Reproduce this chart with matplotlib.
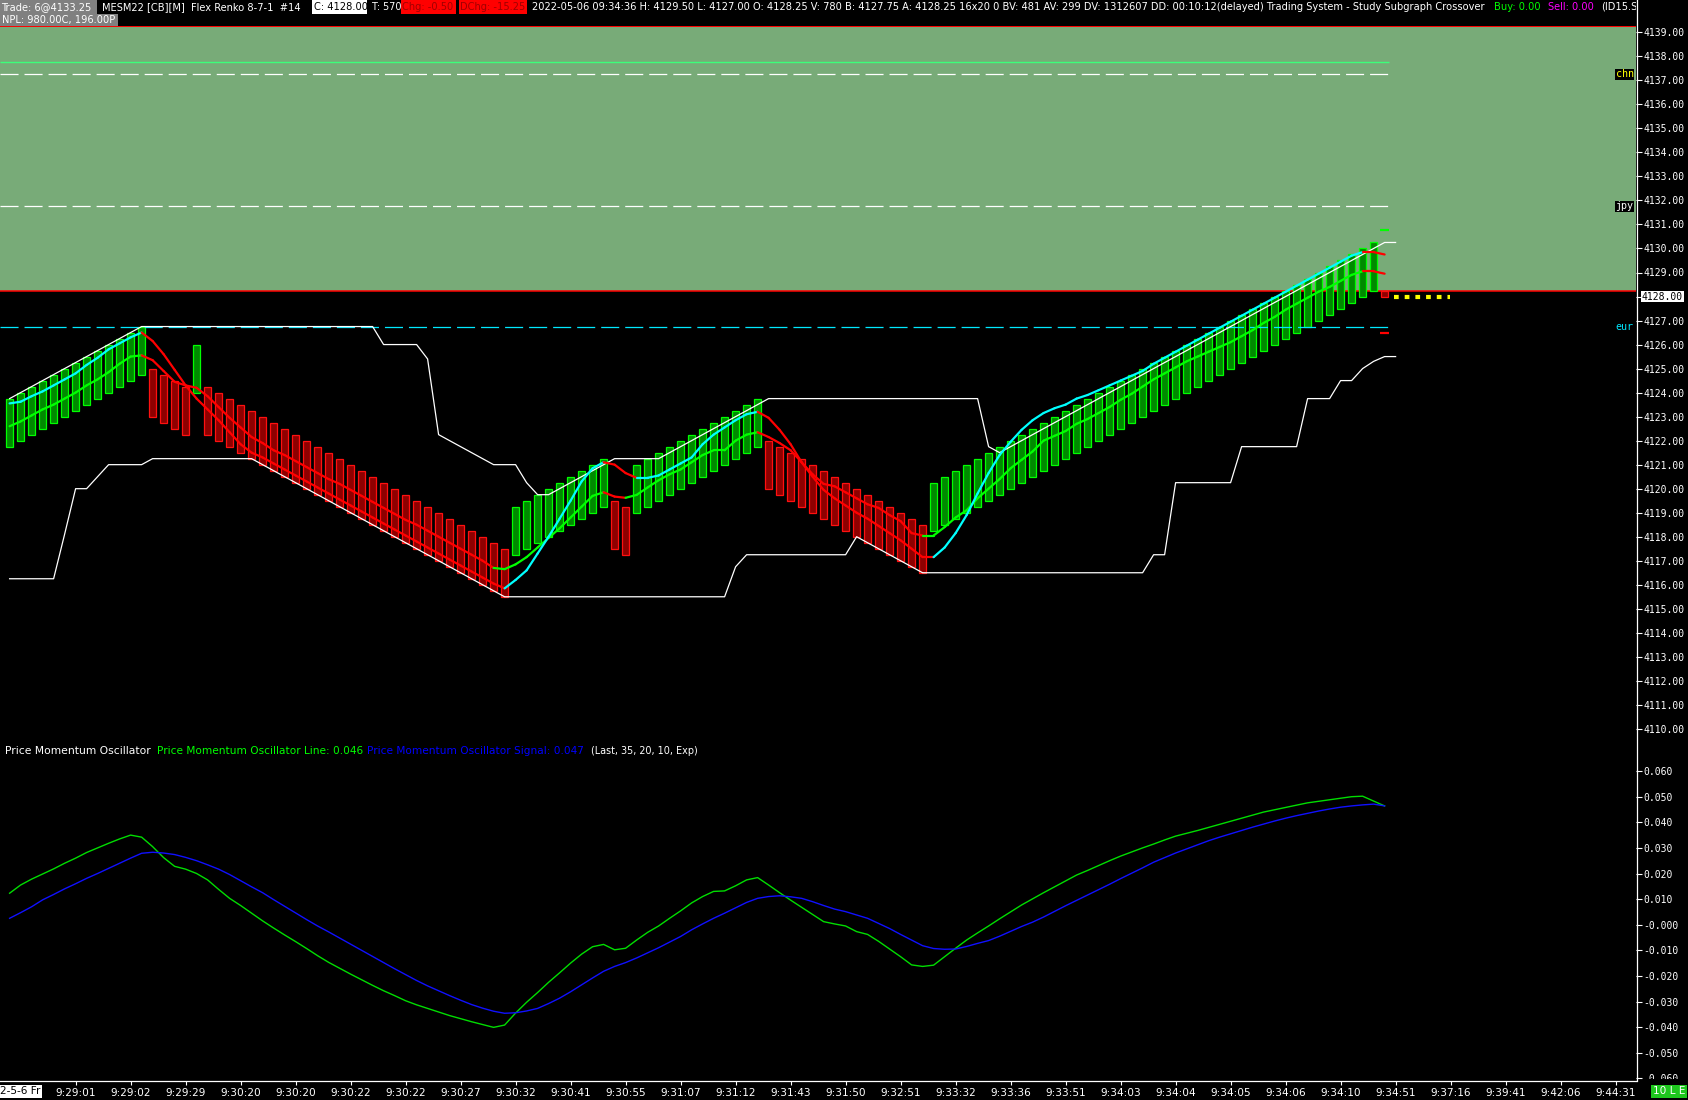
import matplotlib
matplotlib.use("Agg")
import matplotlib.pyplot as plt
from matplotlib import font_manager
from matplotlib.patches import Rectangle
from matplotlib.collections import LineCollection
from matplotlib.lines import Line2D
from matplotlib.transforms import Bbox

plt.rcParams['lines.scale_dashes'] = False

# ---------------- data ----------------
bar_high = [4123.75, 4124.0, 4124.25, 4124.5, 4124.75, 4125.0, 4125.25, 4125.5, 4125.75, 4126.0, 4126.25, 4126.5, 4126.75,
            4125.0, 4124.75, 4124.5, 4124.25,
            4126.0,
            4124.25, 4124.0, 4123.75, 4123.5, 4123.25, 4123.0, 4122.75, 4122.5, 4122.25, 4122.0,
            4121.75, 4121.5, 4121.25, 4121.0, 4120.75, 4120.5, 4120.25, 4120.0, 4119.75, 4119.5,
            4119.25, 4119.0, 4118.75, 4118.5, 4118.25, 4118.0, 4117.75, 4117.5,
            4119.25, 4119.5, 4119.75, 4120.0, 4120.25, 4120.5, 4120.75, 4121.0, 4121.25,
            4119.5, 4119.25,
            4121.0, 4121.25, 4121.5, 4121.75, 4122.0, 4122.25, 4122.5, 4122.75, 4123.0, 4123.25, 4123.5, 4123.75,
            4122.0, 4121.75, 4121.5, 4121.25, 4121.0, 4120.75, 4120.5, 4120.25, 4120.0, 4119.75, 4119.5, 4119.25, 4119.0, 4118.75, 4118.5,
            4120.25, 4120.5, 4120.75, 4121.0, 4121.25, 4121.5, 4121.75, 4122.0, 4122.25, 4122.5,
            4122.75, 4123.0, 4123.25, 4123.5, 4123.75, 4124.0, 4124.25, 4124.5, 4124.75, 4125.0,
            4125.25, 4125.5, 4125.75, 4126.0, 4126.25, 4126.5, 4126.75, 4127.0, 4127.25, 4127.5,
            4127.75, 4128.0, 4128.25, 4128.5, 4128.75, 4129.0, 4129.25, 4129.5, 4129.75, 4130.0, 4130.25]
bar_low = [4121.75, 4122.0, 4122.25, 4122.5, 4122.75, 4123.0, 4123.25, 4123.5, 4123.75, 4124.0, 4124.25, 4124.5, 4124.75,
           4123.0, 4122.75, 4122.5, 4122.25,
           4124.0,
           4122.25, 4122.0, 4121.75, 4121.5, 4121.25, 4121.0, 4120.75, 4120.5, 4120.25, 4120.0,
           4119.75, 4119.5, 4119.25, 4119.0, 4118.75, 4118.5, 4118.25, 4118.0, 4117.75, 4117.5,
           4117.25, 4117.0, 4116.75, 4116.5, 4116.25, 4116.0, 4115.75, 4115.5,
           4117.25, 4117.5, 4117.75, 4118.0, 4118.25, 4118.5, 4118.75, 4119.0, 4119.25,
           4117.5, 4117.25,
           4119.0, 4119.25, 4119.5, 4119.75, 4120.0, 4120.25, 4120.5, 4120.75, 4121.0, 4121.25, 4121.5, 4121.75,
           4120.0, 4119.75, 4119.5, 4119.25, 4119.0, 4118.75, 4118.5, 4118.25, 4118.0, 4117.75, 4117.5, 4117.25, 4117.0, 4116.75, 4116.5,
           4118.25, 4118.5, 4118.75, 4119.0, 4119.25, 4119.5, 4119.75, 4120.0, 4120.25, 4120.5,
           4120.75, 4121.0, 4121.25, 4121.5, 4121.75, 4122.0, 4122.25, 4122.5, 4122.75, 4123.0,
           4123.25, 4123.5, 4123.75, 4124.0, 4124.25, 4124.5, 4124.75, 4125.0, 4125.25, 4125.5,
           4125.75, 4126.0, 4126.25, 4126.5, 4126.75, 4127.0, 4127.25, 4127.5, 4127.75, 4128.0, 4128.25]
bar_dir = "U" * 13 + "D" * 4 + "U" + "D" * 28 + "U" * 9 + "D" * 2 + "U" * 12 + "D" * 15 + "U" * 41
cur_bar_high, cur_bar_low = 4128.25, 4128.0

upper_channel = ([4123.75, 4124.0, 4124.25, 4124.5, 4124.75, 4125.0, 4125.25, 4125.5, 4125.75, 4126.0, 4126.25, 4126.5, 4126.75]
                 + [4126.75] * 21 + [4126.0] * 4
                 + [4125.4, 4122.25, 4122.0, 4121.75, 4121.5, 4121.25, 4121.0, 4121.0, 4121.0, 4120.25, 4119.75, 4119.75,
                    4120.0, 4120.25, 4120.5, 4120.75, 4121.0]
                 + [4121.25] * 5
                 + [4121.5, 4121.75, 4122.0, 4122.25, 4122.5, 4122.75, 4123.0, 4123.25, 4123.5]
                 + [4123.75] * 20
                 + [4121.75,
                    4121.5, 4121.75, 4122.0, 4122.25, 4122.5, 4122.75, 4123.0, 4123.25, 4123.5, 4123.75,
                    4124.0, 4124.25, 4124.5, 4124.75, 4125.0, 4125.25, 4125.5, 4125.75, 4126.0, 4126.25,
                    4126.5, 4126.75, 4127.0, 4127.25, 4127.5, 4127.75, 4128.0, 4128.25, 4128.5, 4128.75,
                    4129.0, 4129.25, 4129.5, 4129.75, 4130.0, 4130.25, 4130.25])
lower_channel = ([4116.25] * 5 + [4118.1, 4120.0, 4120.0, 4120.5] + [4121.0] * 4 + [4121.25] * 9
                 + [4121.25, 4121.0, 4120.75, 4120.5, 4120.25, 4120.0, 4119.75, 4119.5, 4119.25, 4119.0,
                    4118.75, 4118.5, 4118.25, 4118.0, 4117.75, 4117.5, 4117.25, 4117.0, 4116.75, 4116.5,
                    4116.25, 4116.0, 4115.75, 4115.5]
                 + [4115.5] * 20 + [4116.75] + [4117.25] * 10
                 + [4118.0, 4117.75, 4117.5, 4117.25, 4117.0, 4116.75, 4116.5]
                 + [4116.5] * 20 + [4117.25] * 2 + [4120.25] * 6 + [4121.75] * 6 + [4123.75] * 3
                 + [4124.5] * 2 + [4125.0, 4125.3, 4125.5, 4125.5])

fast_avg = [4123.55, 4123.62, 4123.85, 4124.05, 4124.3, 4124.55, 4124.8, 4125.15, 4125.45, 4125.8, 4126.05, 4126.3, 4126.5,
            4126.15, 4125.6, 4124.95, 4124.3, 4123.75, 4123.3, 4122.85, 4122.35, 4121.85,
            4121.5, 4121.3, 4121.05, 4120.8, 4120.55, 4120.3, 4120.05, 4119.8, 4119.55, 4119.3,
            4119.05, 4118.8, 4118.55, 4118.3, 4118.05, 4117.8, 4117.55, 4117.3, 4117.05, 4116.8,
            4116.55, 4116.3, 4116.05, 4115.85,
            4116.2, 4116.6, 4117.3, 4118.0, 4118.75, 4119.5, 4120.3, 4120.85, 4121.1,
            4121.0, 4120.65, 4120.45,
            4120.45, 4120.55, 4120.8, 4121.05, 4121.3, 4121.85, 4122.25, 4122.55, 4122.85, 4123.1, 4123.2,
            4122.95, 4122.45, 4121.85, 4121.1, 4120.5, 4119.95, 4119.6, 4119.3, 4119.0, 4118.75, 4118.45, 4118.15, 4117.85, 4117.5, 4117.15,
            4117.15, 4117.55, 4118.15, 4118.9, 4119.8, 4120.65, 4121.4, 4121.95, 4122.45, 4122.85,
            4123.15, 4123.35, 4123.5, 4123.75, 4123.9, 4124.1, 4124.3, 4124.5, 4124.7, 4124.9,
            4125.2, 4125.45, 4125.7, 4125.95, 4126.2, 4126.45, 4126.7, 4126.95, 4127.2, 4127.45,
            4127.7, 4127.95, 4128.2, 4128.45, 4128.7, 4128.95, 4129.2, 4129.45, 4129.7, 4129.85,
            4129.85, 4129.75]
fast_dir = "U" * 13 + "D" * 33 + "U" * 9 + "D" * 3 + "U" * 11 + "D" * 16 + "U" * 39 + "D" * 2

slow_avg = [4122.6, 4122.8, 4123.05, 4123.3, 4123.5, 4123.75, 4124.0, 4124.3, 4124.55, 4124.85, 4125.2, 4125.5, 4125.55,
            4125.35, 4124.9, 4124.45, 4124.3, 4124.2, 4123.85, 4123.4, 4122.95, 4122.55, 4122.15, 4121.9, 4121.6, 4121.4,
            4121.15, 4120.9, 4120.65, 4120.4, 4120.2, 4119.95, 4119.7, 4119.45, 4119.2, 4118.95,
            4118.7, 4118.5, 4118.25, 4118.0, 4117.75, 4117.5, 4117.25, 4117.0, 4116.7, 4116.65,
            4116.85, 4117.15, 4117.55, 4117.95, 4118.35, 4118.8, 4119.25, 4119.7, 4119.85,
            4119.67, 4119.62,
            4119.74, 4120.05, 4120.35, 4120.6, 4120.8, 4121.1, 4121.4, 4121.6, 4121.6, 4122.0, 4122.25, 4122.35,
            4122.15, 4121.9, 4121.6, 4121.1, 4120.6, 4120.2, 4120.1, 4119.85, 4119.6, 4119.35, 4119.2, 4118.9, 4118.65, 4118.15, 4118.05,
            4118.05, 4118.4, 4118.8, 4119.1, 4119.6, 4120.0, 4120.4, 4120.85, 4121.2, 4121.55,
            4122.0, 4122.2, 4122.4, 4122.7, 4122.9, 4123.15, 4123.4, 4123.7, 4123.95, 4124.25,
            4124.55, 4124.8, 4125.05, 4125.3, 4125.5, 4125.7, 4125.9, 4126.1, 4126.35, 4126.6,
            4126.9, 4127.15, 4127.45, 4127.7, 4127.95, 4128.2, 4128.4, 4128.65, 4128.9, 4129.05,
            4129.05, 4128.95]
slow_dir = "U" * 13 + "D" * 32 + "U" * 10 + "D" * 2 + "U" * 12 + "D" * 15 + "U" * 40 + "D" * 2

pmo_line = [0.0123, 0.0155, 0.0178, 0.0198, 0.0218, 0.0240, 0.0260, 0.0282, 0.0300, 0.0318,
            0.0335, 0.0350, 0.0342, 0.0305, 0.0262, 0.0228, 0.0217, 0.0200, 0.0175, 0.0138,
            0.0103, 0.0075, 0.0045, 0.0015, -0.0013, -0.0040, -0.0066, -0.0093, -0.0121, -0.0147,
            -0.0170, -0.0193, -0.0215, -0.0237, -0.0258, -0.0277, -0.0297, -0.0313, -0.0327, -0.0341,
            -0.0355, -0.0367, -0.0379, -0.0390, -0.0401, -0.0392, -0.0345, -0.0303, -0.0265, -0.0225,
            -0.0188, -0.0150, -0.0115, -0.0086, -0.0077, -0.0098, -0.0092, -0.0060, -0.0030, -0.0005,
            0.0025, 0.0054, 0.0085, 0.0110, 0.0130, 0.0132, 0.0152, 0.0175, 0.0184, 0.0155,
            0.0125, 0.0096, 0.0068, 0.0040, 0.0012, 0.0003, -0.0005, -0.0027, -0.0038, -0.0065,
            -0.0095, -0.0125, -0.0157, -0.0163, -0.0158, -0.0125, -0.0092, -0.0060, -0.0032, -0.0005,
            0.0023, 0.0050, 0.0077, 0.0101, 0.0125, 0.0148, 0.0171, 0.0194, 0.0212, 0.0231,
            0.0250, 0.0268, 0.0284, 0.0300, 0.0315, 0.0331, 0.0346, 0.0357, 0.0368, 0.0380,
            0.0392, 0.0404, 0.0416, 0.0428, 0.0440, 0.0449, 0.0458, 0.0467, 0.0476, 0.0482,
            0.0488, 0.0494, 0.0500, 0.0502, 0.0483, 0.0464]
pmo_signal = [0.0025, 0.0047, 0.0070, 0.0097, 0.0118, 0.0140, 0.0160, 0.0181, 0.0200, 0.0220,
              0.0240, 0.0260, 0.0279, 0.0283, 0.0280, 0.0274, 0.0263, 0.0250, 0.0234, 0.0217,
              0.0196, 0.0172, 0.0148, 0.0125, 0.0098, 0.0072, 0.0046, 0.0020, -0.0005, -0.0028,
              -0.0052, -0.0076, -0.0100, -0.0124, -0.0148, -0.0172, -0.0195, -0.0218, -0.0239, -0.0258,
              -0.0277, -0.0295, -0.0312, -0.0326, -0.0338, -0.0346, -0.0344, -0.0337, -0.0327, -0.0308,
              -0.0287, -0.0262, -0.0235, -0.0208, -0.0182, -0.0163, -0.0148, -0.0130, -0.0110, -0.0090,
              -0.0068, -0.0046, -0.0020, 0.0003, 0.0025, 0.0045, 0.0066, 0.0087, 0.0103, 0.0110,
              0.0113, 0.0109, 0.0103, 0.0090, 0.0075, 0.0061, 0.0051, 0.0038, 0.0025, 0.0005,
              -0.0015, -0.0038, -0.0060, -0.0082, -0.0093, -0.0096, -0.0095, -0.0085, -0.0073, -0.0062,
              -0.0045, -0.0026, -0.0007, 0.0010, 0.0030, 0.0052, 0.0074, 0.0095, 0.0116, 0.0137,
              0.0158, 0.0180, 0.0201, 0.0222, 0.0244, 0.0262, 0.0280, 0.0296, 0.0312, 0.0328,
              0.0342, 0.0355, 0.0368, 0.0381, 0.0393, 0.0405, 0.0416, 0.0426, 0.0435, 0.0444,
              0.0452, 0.0459, 0.0464, 0.0468, 0.0471, 0.0464]

zone_low, zone_high = 4128.25, 4139.25
level_green = 4137.75
level_chn = 4137.25
level_jpy = 4131.75
level_eur = 4126.75
last_price = 4128.00
stop_up, stop_dn = 4130.75, 4126.5

price_ticks = list(range(4110, 4140))
osc_ticks = [0.06, 0.05, 0.04, 0.03, 0.02, 0.01, 0.0, -0.01, -0.02, -0.03, -0.04, -0.05, -0.06]
osc_tick_labels = ["0.060", "0.050", "0.040", "0.030", "0.020", "0.010", "-0.000",
                   "-0.010", "-0.020", "-0.030", "-0.040", "-0.050", "-0.060"]
time_labels = ["9:29:01", "9:29:02", "9:29:29", "9:30:20", "9:30:20", "9:30:22", "9:30:22", "9:30:27",
               "9:30:32", "9:30:41", "9:30:55", "9:31:07", "9:31:12", "9:31:43", "9:31:50", "9:32:51",
               "9:33:32", "9:33:36", "9:33:51", "9:34:03", "9:34:04", "9:34:05", "9:34:06", "9:34:10",
               "9:34:51", "9:37:16", "9:39:41", "9:42:06", "9:44:31"]
first_time_label = "2-5-6 Fr"

header_row1 = [
    ("Trade: 6@4133.25", 0, 97, 'white', '#808080'),
    ("MESM22 [CB][M]  Flex Renko 8-7-1  #14", 101, 309, 'white', None),
    ("C: 4128.00", 312, 367, 'black', 'white'),
    ("T: 570", 370, 400, 'white', None),
    ("Chg: -0.50", 401, 456, '#a00000', '#ff0000'),
    ("DChg: -15.25", 459, 527, '#a00000', '#ff0000'),
    ("2022-05-06 09:34:36 H: 4129.50 L: 4127.00 O: 4128.25 V: 780 B: 4127.75 A: 4128.25 16x20 0 BV: 481 "
     "AV: 299 DV: 1312607 DD: 00:10:12(delayed) Trading System - Study Subgraph Crossover", 531, 1488, 'white', None),
    ("Buy: 0.00", 1493, 1541, '#00ff00', None),
    ("Sell: 0.00", 1547, 1594, '#ff00ff', None),
]
header_clip = ("(ID15.Study", 1601, 1636)
header_row2 = ("NPL: 980.00C, 196.00P", 0, 118)
osc_title = [
    ("Price Momentum Oscillator", 5, 150, 'white'),
    ("Price Momentum Oscillator Line: 0.046", 157, 362, '#00ff00'),
    ("Price Momentum Oscillator Signal: 0.047", 367, 582, '#0000ff'),
    ("(Last, 35, 20, 10, Exp)", 591, 697, 'white'),
]

# ---------------- layout ----------------
W, H, DPI = 1688, 1100, 100
CHART_R = 1636
P_TOP, P_BOT = 26, 742
O_TOP, O_BOT = 742, 1081
BAR0_PX, BAR_STEP = 9.6, 11.0
PX_4139, PX_PER_PT = 32.3, 24.02
PX_ZERO, PX_PER_UNIT = 924.7, 2560.0
LEVEL_END = (1389 - BAR0_PX) / BAR_STEP
YEL_START, YEL_END = (1394 - BAR0_PX) / BAR_STEP, (1450 - BAR0_PX) / BAR_STEP

installed = {f.name for f in font_manager.fontManager.ttflist}
NARROW = 'Liberation Sans Narrow' if 'Liberation Sans Narrow' in installed else 'DejaVu Sans'
MONO = 'DejaVu Sans Mono'

ZONE = '#78ab78'
UPF, UPE = '#008a00', '#00ff00'
DNF, DNE = '#8e0000', '#ff1010'

fig = plt.figure(figsize=(W / DPI, H / DPI), dpi=DPI, facecolor='black')


def fx(px):
    return px / W


def fy(py):
    return 1 - py / H


ax1 = fig.add_axes([0, fy(P_BOT), fx(CHART_R), (P_BOT - P_TOP) / H])
ax2 = fig.add_axes([0, fy(O_BOT), fx(CHART_R), (O_BOT - O_TOP) / H], sharex=ax1)
for ax in (ax1, ax2):
    ax.set_facecolor('black')
    for sp in ax.spines.values():
        sp.set_visible(False)

xmin = (0 - BAR0_PX) / BAR_STEP
xmax = (CHART_R - BAR0_PX) / BAR_STEP
ax1.set_xlim(xmin, xmax)
ax1.set_ylim(4139 - (P_BOT - PX_4139) / PX_PER_PT, 4139 + (PX_4139 - P_TOP) / PX_PER_PT)
ax2.set_ylim((PX_ZERO - O_BOT) / PX_PER_UNIT, (PX_ZERO - O_TOP) / PX_PER_UNIT)

# ---- price panel ----
ax1.axhspan(zone_low, zone_high, color=ZONE, lw=0, zorder=0)
ax1.axhline(zone_low, color='#ff0000', lw=1.1, zorder=1)
ax1.axhline(zone_high, color='#ff0000', lw=1.4, zorder=1)

ax1.hlines(level_green, xmin, LEVEL_END, color='#3cff7a', lw=1.0, zorder=2.5)
for lev, col in ((level_chn, 'white'), (level_jpy, 'white'), (level_eur, '#00e8ff')):
    ln = ax1.hlines(lev, xmin, LEVEL_END, color=col, lw=0.9, zorder=2.5)
    ln.set_linestyle((0, (13.0, 4.3)))
ax1.hlines(last_price, YEL_START, YEL_END, color='#ffff00', lw=3.0, zorder=2.5,
           linestyles=[(0, (3.4, 4.3))])

n = len(bar_high)
xs = list(range(n))
heights = [bar_high[i] - bar_low[i] for i in range(n)]
fills = [UPF if d == 'U' else DNF for d in bar_dir]
edges = [UPE if d == 'U' else DNE for d in bar_dir]
ax1.bar(xs, heights, bottom=bar_low, width=0.6, color=fills, edgecolor=edges, linewidth=0.9, zorder=2)
ax1.bar([n], [cur_bar_high - cur_bar_low], bottom=[cur_bar_low], width=0.6, color=DNF,
        edgecolor=DNE, linewidth=0.9, zorder=2)

ax1.plot(range(len(upper_channel)), upper_channel, color='white', lw=0.9, zorder=3)
ax1.plot(range(len(lower_channel)), lower_channel, color='white', lw=0.9, zorder=3)


def colored_line(ax, vals, dirs, cmap, lw, z):
    segs = [[(i - 1, vals[i - 1]), (i, vals[i])] for i in range(1, len(vals))]
    cols = [cmap[dirs[i]] for i in range(1, len(vals))]
    ax.add_collection(LineCollection(segs, colors=cols, linewidths=lw, zorder=z, capstyle='round'))


colored_line(ax1, slow_avg, slow_dir, {'U': '#00ff00', 'D': '#ff0000'}, 1.6, 4)
colored_line(ax1, fast_avg, fast_dir, {'U': '#00ffff', 'D': '#ff0000'}, 1.6, 5)

ax1.hlines([stop_up, stop_dn], n - 0.4, n + 0.4, colors=['#00ff00', '#ff0000'], lw=1.6, zorder=5)

ax1.yaxis.tick_right()
ax1.set_yticks(price_ticks)
ax1.set_yticklabels([f"{v:.2f}" for v in price_ticks], family=MONO, fontsize=7.0, color='white')
ax1.tick_params(axis='y', direction='out', length=4, width=0.8, colors='white', pad=1.5)
ax1.tick_params(axis='x', bottom=False, labelbottom=False)

ax1.text(1.0036, last_price, f"{last_price:.2f}", transform=ax1.get_yaxis_transform(), family=MONO,
         fontsize=7.0, color='black', ha='left', va='center', clip_on=False, zorder=10,
         bbox=dict(facecolor='white', edgecolor='none', pad=0.6))
for lev, s, col, boxed in ((level_chn, 'chn', '#ffff00', True), (level_jpy, 'jpy', 'white', True),
                           (level_eur, 'eur', '#00e8ff', False)):
    kw = dict(bbox=dict(facecolor='black', edgecolor='none', pad=0.6)) if boxed else {}
    ax1.text(0.9985, lev, s, transform=ax1.get_yaxis_transform(), family=MONO, fontsize=7.2,
             color=col, ha='right', va='center', zorder=6, **kw)

# ---- oscillator panel ----
ax2.plot(range(len(pmo_line)), pmo_line, color='#00dd00', lw=1.0, zorder=3)
ax2.plot(range(len(pmo_signal)), pmo_signal, color='#1010ff', lw=1.0, zorder=4)
ax2.yaxis.tick_right()
ax2.set_yticks(osc_ticks)
ax2.set_yticklabels(osc_tick_labels, family=MONO, fontsize=7.0, color='white')
ax2.tick_params(axis='y', direction='out', length=4, width=0.8, colors='white', pad=1.5)
lab = ax2.get_yticklabels()[-1]
lab.set_clip_box(Bbox.from_extents(0, H - 1079, W, H))
lab.set_clip_on(True)

tick_idx = [6 + 5 * k for k in range(len(time_labels))]
ax2.set_xticks(tick_idx)
ax2.set_xticklabels(time_labels, family=NARROW, fontsize=7.6, color='white')
ax2.tick_params(axis='x', direction='out', length=3, width=0.8, colors='white', pad=2.0)
ax2.set_xlim(xmin, xmax)

ax2.text(1, -(1091.5 - O_BOT) / (O_BOT - O_TOP) + 1 - 1, first_time_label, transform=ax2.get_xaxis_transform(),
         family=NARROW, fontsize=7.6, color='black', ha='center', va='center', clip_on=False,
         bbox=dict(facecolor='white', edgecolor='none', pad=1.0))

# axis frame lines
fig.add_artist(Line2D([fx(CHART_R + 0.5)] * 2, [fy(0), fy(O_BOT)], color='white', lw=0.9,
                      transform=fig.transFigure))
fig.add_artist(Line2D([0, fx(CHART_R)], [fy(O_BOT)] * 2, color='white', lw=0.9, transform=fig.transFigure))

fig.text(fx(1653), fy(1091.5), "10 L E", family=NARROW, fontsize=7.6, color='white', ha='left', va='center',
         bbox=dict(facecolor='#1ec81e', edgecolor='none', pad=1.2))

# ---- header ----
renderer = fig.canvas.get_renderer()


def fit(t, target):
    w = t.get_window_extent(renderer=renderer).width
    if w > 0:
        t.set_fontsize(t.get_fontsize() * target / w)


def box(x0, y0, x1, y1, color):
    fig.add_artist(Rectangle((fx(x0), fy(y1)), (x1 - x0) / W, (y1 - y0) / H, transform=fig.transFigure,
                             facecolor=color, edgecolor='none', zorder=1))


# common header font size from the long status string
probe = fig.text(0, 0, header_row1[6][0], family=NARROW, fontsize=8.0)
fit(probe, header_row1[6][2] - header_row1[6][1])
HDR_FS = min(probe.get_fontsize(), 9.2)
probe.remove()

for s, x0, x1, fg, bg in header_row1:
    if bg:
        box(x0, 0, x1, 14, bg)
    t = fig.text(fx(x0 + 1.5), fy(7.2), s, family=NARROW, fontsize=HDR_FS, color=fg, ha='left', va='center',
                 zorder=3)
    if t.get_window_extent(renderer=renderer).width > (x1 - x0 - 1):
        fit(t, x1 - x0 - 1)

s, x0, x1 = header_clip
t = fig.text(fx(x0), fy(7.2), s, family=NARROW, fontsize=HDR_FS, color='white', ha='left', va='center', zorder=3)
t.set_clip_box(Bbox.from_extents(0, 0, x1, H))
t.set_clip_on(True)

s, x0, x1 = header_row2
box(x0, 14, x1, 25.5, '#808080')
t = fig.text(fx(x0 + 1.5), fy(20.2), s, family=NARROW, fontsize=HDR_FS, color='white', ha='left', va='center',
             zorder=3)
if t.get_window_extent(renderer=renderer).width > (x1 - x0 - 2):
    fit(t, x1 - x0 - 2)

for s, x0, x1, col in osc_title:
    t = fig.text(fx(x0), fy(750.5), s, family=NARROW, fontsize=8.0, color=col, ha='left', va='center', zorder=3)
    fit(t, x1 - x0)

fig.savefig("out.png", dpi=DPI, facecolor='black')
